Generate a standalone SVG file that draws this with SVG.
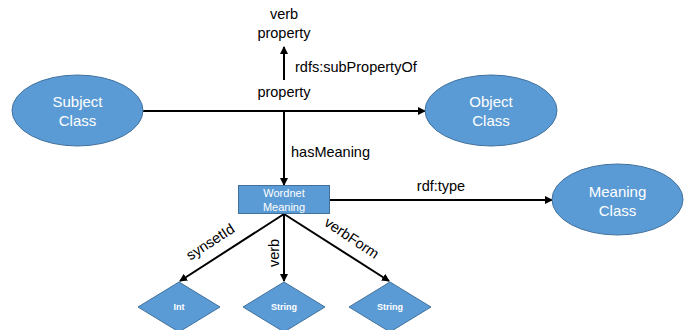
<svg xmlns="http://www.w3.org/2000/svg" width="689" height="330" viewBox="0 0 689 330">
<style>
.shape{fill:#5B9BD5;stroke:#41719C;stroke-width:1}
.wt{fill:#fff;font-family:"Liberation Sans",Arial,sans-serif;text-anchor:middle}
.lbl{fill:#000;font-family:"Liberation Sans",Arial,sans-serif;font-size:14.5px}
.edge{stroke:#000;stroke-width:2;fill:none}
</style>
<defs>
<marker id="ah" markerWidth="8" markerHeight="8" refX="7" refY="4" orient="auto" markerUnits="userSpaceOnUse">
<path d="M0,0 L8,4 L0,8 Z" fill="#000"/>
</marker>
</defs>
<rect width="689" height="330" fill="#fff"/>
<g id="connectors">
<line class="edge" x1="143" y1="111" x2="425" y2="111" marker-end="url(#ah)"/>
<line class="edge" x1="284" y1="80" x2="284" y2="47" marker-end="url(#ah)"/>
<line class="edge" x1="284" y1="111" x2="284" y2="185" marker-end="url(#ah)"/>
<line class="edge" x1="330" y1="200" x2="552" y2="200" marker-end="url(#ah)"/>
<line class="edge" x1="284" y1="214" x2="180" y2="281" marker-end="url(#ah)"/>
<line class="edge" x1="284" y1="214" x2="284" y2="281" marker-end="url(#ah)"/>
<line class="edge" x1="284" y1="214" x2="389" y2="281" marker-end="url(#ah)"/>
<text class="lbl" x="295" y="72">rdfs:subPropertyOf</text>
<text class="lbl" x="284" y="97" text-anchor="middle">property</text>
<text class="lbl" x="291" y="157">hasMeaning</text>
<text class="lbl" x="441" y="191" text-anchor="middle">rdf:type</text>
<text class="lbl" text-anchor="middle" transform="translate(213,246) rotate(-33)">synsetId</text>
<text class="lbl" text-anchor="middle" transform="translate(279,253) rotate(-90)">verb</text>
<text class="lbl" text-anchor="middle" transform="translate(349,242) rotate(34)">verbForm</text>
</g>
<g id="verb-property">
<text class="lbl" x="284" y="19" text-anchor="middle">verb</text>
<text class="lbl" x="284" y="38" text-anchor="middle">property</text>
</g>
<g id="subject-class">
<ellipse class="shape" cx="77.5" cy="110.5" rx="65.5" ry="35.5"/>
<text class="wt" x="77.5" y="107" font-size="15">Subject</text>
<text class="wt" x="77.5" y="126" font-size="15">Class</text>
</g>
<g id="object-class">
<ellipse class="shape" cx="491" cy="110.5" rx="66" ry="35.5"/>
<text class="wt" x="491" y="107" font-size="15">Object</text>
<text class="wt" x="491" y="126" font-size="15">Class</text>
</g>
<g id="meaning-class">
<ellipse class="shape" cx="617.5" cy="199.5" rx="65.5" ry="35.5"/>
<text class="wt" x="617.5" y="197" font-size="15">Meaning</text>
<text class="wt" x="617.5" y="216" font-size="15">Class</text>
</g>
<g id="wordnet-meaning">
<rect class="shape" x="238.5" y="185.5" width="91" height="28"/>
<text class="wt" x="284" y="197" font-size="11">Wordnet</text>
<text class="wt" x="284" y="211" font-size="11">Meaning</text>
</g>
<g id="int">
<polygon class="shape" points="179,282 220,307 179,332 138,307"/>
<text class="wt" x="179" y="310" font-size="9" font-weight="bold">Int</text>
</g>
<g id="string1">
<polygon class="shape" points="284,282 325,307 284,332 243,307"/>
<text class="wt" x="284" y="310" font-size="9" font-weight="bold">String</text>
</g>
<g id="string2">
<polygon class="shape" points="390,282 431,307 390,332 349,307"/>
<text class="wt" x="390" y="310" font-size="9" font-weight="bold">String</text>
</g>
</svg>
